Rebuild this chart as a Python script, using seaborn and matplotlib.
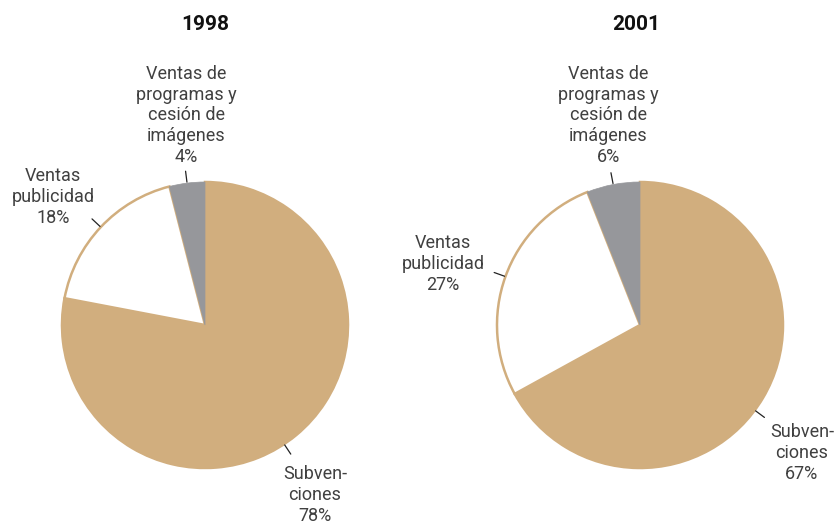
import numpy as np
import matplotlib
matplotlib.use("Agg")
import matplotlib.pyplot as plt
import seaborn as sns

# Income structure by source, share of total (%)
categories = ["Subvenciones", "Ventas publicidad",
              "Ventas de programas y cesión de imágenes"]
labels = ["Subven-\nciones", "Ventas\npublicidad",
          "Ventas de\nprogramas y\ncesión de\nimágenes"]
years = ["1998", "2001"]
values_1998 = [78, 18, 4]
values_2001 = [67, 27, 6]

sns.set_theme(style="white")
plt.rcParams["font.family"] = ["Roboto", "DejaVu Sans"]

TAN = "#D1AE7E"
GREY = "#96979B"
TEXT = "#404040"
colors = [TAN, "white", GREY]
edges = [TAN, TAN, GREY]

W, H = 836, 526
fig = plt.figure(figsize=(W / 100, H / 100), dpi=100)
ax = fig.add_axes([0, 0, 1, 1])

R = 143
centers = [(205, H - 325), (640, H - 325)]
title_x = [205, 636]
# label layout per year: (x, y, vertical alignment) for each category
label_pos = [
    [(315, H - 465, "top"), (53, H - 167, "top"), (186, H - 166, "bottom")],
    [(802, H - 423, "top"), (443, H - 234, "top"), (608, H - 166, "bottom")],
]
# angular nudge of the leader tick relative to the wedge midpoint (degrees)
tick_nudge = [6, 0, 0]

for k, vals in enumerate([values_1998, values_2001]):
    cx, cy = centers[k]
    wedges, _ = ax.pie(vals, center=(cx, cy), radius=R, startangle=90,
                       counterclock=False, colors=colors,
                       wedgeprops=dict(linewidth=1.8))
    for w, ec in zip(wedges, edges):
        w.set_edgecolor(ec)
    wedges[2].set_linewidth(0.5)
    wedges[2].set_zorder(3)
    wedges[1].set_zorder(2)

    for i, w in enumerate(wedges):
        mid = np.deg2rad((w.theta1 + w.theta2) / 2 - tick_nudge[i])
        r0, r1 = R + 1, R + 12
        ax.plot([cx + r0 * np.cos(mid), cx + r1 * np.cos(mid)],
                [cy + r0 * np.sin(mid), cy + r1 * np.sin(mid)],
                color="#222222", lw=0.9, zorder=4)
        lx, ly, va = label_pos[k][i]
        ax.text(lx, ly, f"{labels[i]}\n{vals[i]}%", ha="center", va=va,
                fontsize=13, color=TEXT, linespacing=1.2,
                fontweight="normal")

    ax.text(title_x[k], H - 25, years[k], ha="center", va="center",
            fontsize=15, fontweight="semibold", color="#111111")

ax.set_xlim(0, W)
ax.set_ylim(0, H)
ax.set_aspect("equal")
ax.axis("off")

fig.savefig("out.png", dpi=100, facecolor="white")
